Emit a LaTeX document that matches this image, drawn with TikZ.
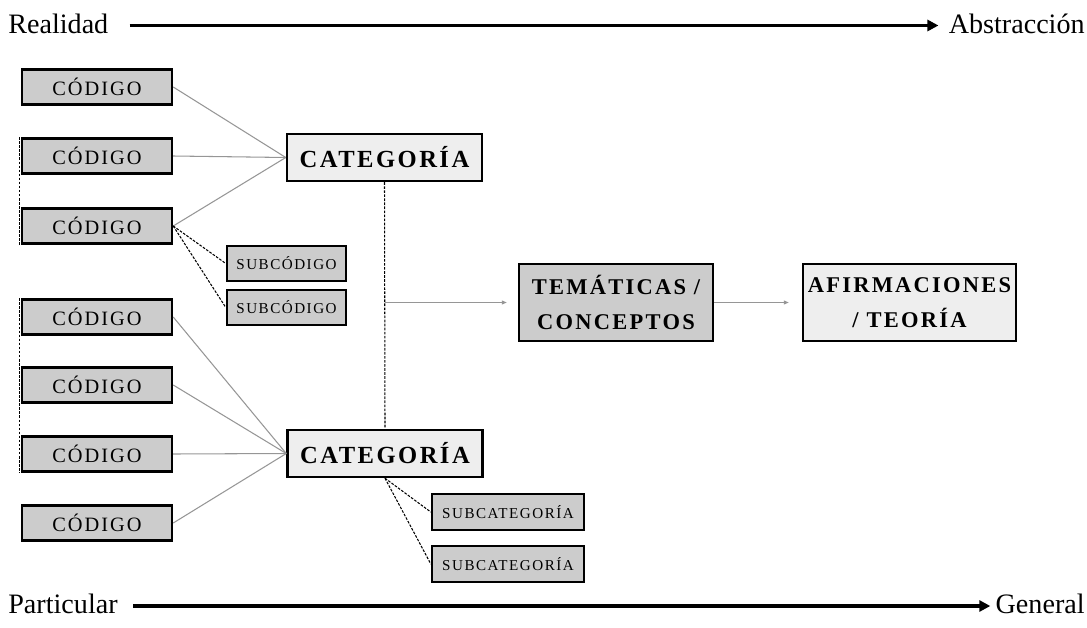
\documentclass[tikz,border=0pt]{standalone}
\usepackage{fontspec}
\setmainfont{Liberation Serif}
\newfontfamily\spaced[LetterSpace=10]{Liberation Serif}
\usetikzlibrary{arrows.meta, positioning, calc}
\definecolor{boxgray}{RGB}{204, 204, 204}
\definecolor{boxlight}{RGB}{238, 238, 238}
\definecolor{linegray}{RGB}{150, 150, 150}
\tikzstyle{codigo} = [rectangle, draw=black, line width=1.4pt, fill=boxgray, minimum width=3cm, minimum height=0.7cm, inner sep=0pt, text centered, font=\spaced\fontsize{11.6}{13}\selectfont]
\tikzstyle{subcodigo} = [rectangle, draw=black, line width=1.4pt, fill=boxgray, minimum width=2.38cm, minimum height=0.7cm, inner sep=0pt, text centered, font=\spaced\fontsize{8.6}{10}\selectfont]
\tikzstyle{categoria} = [rectangle, draw=black, line width=1.4pt, fill=boxlight, minimum width=3.9cm, minimum height=0.94cm, inner sep=0pt, text centered, font=\spaced\bfseries\fontsize{14}{16}\selectfont]
\tikzstyle{bigbox} = [rectangle, draw=black, line width=1.4pt, minimum height=1.54cm, inner sep=0pt, align=center, font=\spaced\bfseries\fontsize{12.8}{20}\selectfont]
\tikzstyle{axislabel} = [inner sep=0pt, font=\fontsize{16}{19}\selectfont]
\tikzstyle{link} = [linegray, line width=0.6pt]
\tikzstyle{sublink} = [black, line width=0.6pt, dash pattern=on 1.5pt off 0.8pt]
\tikzstyle{axis} = [line width=1.8pt, -{Triangle[length=0.22cm, width=0.22cm]}]
\tikzstyle{flow} = [linegray, line width=0.6pt, -{Triangle[length=0.1cm, width=0.08cm]}]

\begin{document}
\begin{tikzpicture}
    \useasboundingbox (0,0) rectangle (21.74,-12.56);

    % Axes
    \node[axislabel, anchor=west] (real) at (0.16,-0.47) {Realidad};
    \node[axislabel, anchor=east] (abst) at (21.7,-0.47) {Abstracción};
    \node[axislabel, anchor=west] (part) at (0.16,-12.08) {Particular};
    \node[axislabel, anchor=east] (gen) at (21.7,-12.08) {General};
    \draw[axis] ($(real.east)+(0.42,-0.04)$) -- ($(abst.west)+(-0.2,-0.04)$);
    \draw[axis] ($(part.east)+(0.3,-0.04)$) -- ($(gen.west)+(-0.1,-0.04)$);

    % Codes
    \node[codigo] (c1) at (1.94,-1.74) {CÓDIGO};
    \node[codigo] (c2) at (1.94,-3.12) {CÓDIGO};
    \node[codigo] (c3) at (1.94,-4.52) {CÓDIGO};
    \node[codigo] (c4) at (1.94,-6.34) {CÓDIGO};
    \node[codigo] (c5) at (1.94,-7.70) {CÓDIGO};
    \node[codigo] (c6) at (1.94,-9.08) {CÓDIGO};
    \node[codigo] (c7) at (1.94,-10.46) {CÓDIGO};

    % Subcodes
    \node[subcodigo] (sc1) at (5.73,-5.27) {SUBCÓDIGO};
    \node[subcodigo] (sc2) at (5.73,-6.15) {SUBCÓDIGO};

    % Categories
    \node[categoria] (cat1) at (7.69,-3.15) {CATEGORÍA};
    \node[categoria] (cat2) at (7.70,-9.07) {CATEGORÍA};
    \node[subcodigo, minimum width=3.04cm, minimum height=0.72cm] (scat1) at (10.16,-10.24) {SUBCATEGORÍA};
    \node[subcodigo, minimum width=3.04cm, minimum height=0.72cm] (scat2) at (10.16,-11.28) {SUBCATEGORÍA};

    % Themes and theory
    \node[bigbox, fill=boxgray, minimum width=3.88cm] (tem) at (12.32,-6.05) {TEMÁTICAS /\\CONCEPTOS};
    \node[bigbox, fill=boxlight, minimum width=4.26cm] (afir) at (18.19,-6.05) {AFIRMACIONES\\/ TEORÍA};

    % Code links
    \foreach \c in {c1,c2,c3}
        \draw[link] (\c.east) -- (cat1.west);
    \foreach \c in {c4,c5,c6,c7}
        \draw[link] (\c.east) -- (cat2.west);
    \draw[sublink] (c3.east) -- (sc1.west);
    \draw[sublink] (c3.east) -- (sc2.west);
    \draw[sublink] ($(c2.north west)+(-0.03,0)$) -- ($(c3.south west)+(-0.03,0)$);
    \draw[sublink] ($(c4.north west)+(-0.03,0)$) -- ($(c6.south west)+(-0.03,0)$);

    % Category links
    \draw[sublink] (cat1.south) -- (cat2.north);
    \draw[sublink] (cat2.south) -- (scat1.west);
    \draw[sublink] (cat2.south) -- (scat2.west);
    \draw[flow, shorten >=0.22cm] (cat1.south |- tem.west) -- (tem.west);
    \draw[flow, shorten >=0.26cm] (tem.east) -- (afir.west);
\end{tikzpicture}
\end{document}
